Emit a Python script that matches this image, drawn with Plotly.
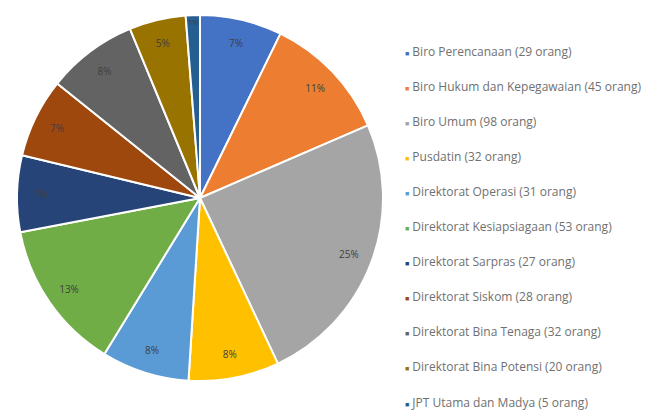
import plotly.graph_objects as go

labels = [
    "Biro Perencanaan (29 orang)",
    "Biro Hukum dan Kepegawaian (45 orang)",
    "Biro Umum (98 orang)",
    "Pusdatin (32 orang)",
    "Direktorat Operasi (31 orang)",
    "Direktorat Kesiapsiagaan (53 orang)",
    "Direktorat Sarpras (27 orang)",
    "Direktorat Siskom (28 orang)",
    "Direktorat Bina Tenaga (32 orang)",
    "Direktorat Bina Potensi (20 orang)",
    "JPT Utama dan Madya (5 orang)",
]
values = [29, 45, 98, 32, 31, 53, 27, 28, 32, 20, 5]
colors = ["#4472C4", "#ED7D31", "#A5A5A5", "#FFC000", "#5B9BD5", "#70AD47",
          "#264478", "#9E480E", "#636363", "#997300", "#255E91"]

W, H = 645, 414
cx, cy, R = 200, 198, 183
dom_x = [(cx - R) / W, (cx + R) / W]
dom_y = [(H - cy - R) / H, (H - cy + R) / H]

fig = go.Figure()
fig.add_trace(go.Pie(
    labels=labels, values=values, sort=False, direction="clockwise", rotation=0,
    marker=dict(colors=colors, line=dict(color="white", width=2)),
    textinfo="none", showlegend=False, domain=dict(x=dom_x, y=dom_y),
    hoverinfo="label+percent",
))
# transparent ring used only to place the percentage labels near the rim
fig.add_trace(go.Pie(
    labels=labels, values=values, sort=False, direction="clockwise", rotation=0,
    hole=0.74, marker=dict(colors=["rgba(0,0,0,0)"] * len(values)),
    texttemplate="%{percent:.0%}", textposition="inside", insidetextorientation="horizontal",
    textfont=dict(size=10, color="#404040", family="Open Sans"),
    showlegend=False, domain=dict(x=dom_x, y=dom_y), hoverinfo="skip",
))

# legend drawn as annotations
y0, dy = 51, 35.1
for i, (lab, col) in enumerate(zip(labels, colors)):
    y = y0 + i * dy
    fig.add_annotation(x=403 / W, y=1 - y / H, xref="paper", yref="paper",
                       xanchor="left", yanchor="middle", showarrow=False,
                       text=f"<span style='color:{col};font-size:7px'>■</span> {lab}",
                       font=dict(size=12, color="#707070", family="Open Sans"))

fig.update_layout(width=W, height=H, margin=dict(l=0, r=0, t=0, b=0),
                  paper_bgcolor="white", plot_bgcolor="white")
fig.write_html("out.html", config={"displayModeBar": False},
               post_script="document.body.style.margin='0';document.body.style.overflow='hidden';")
